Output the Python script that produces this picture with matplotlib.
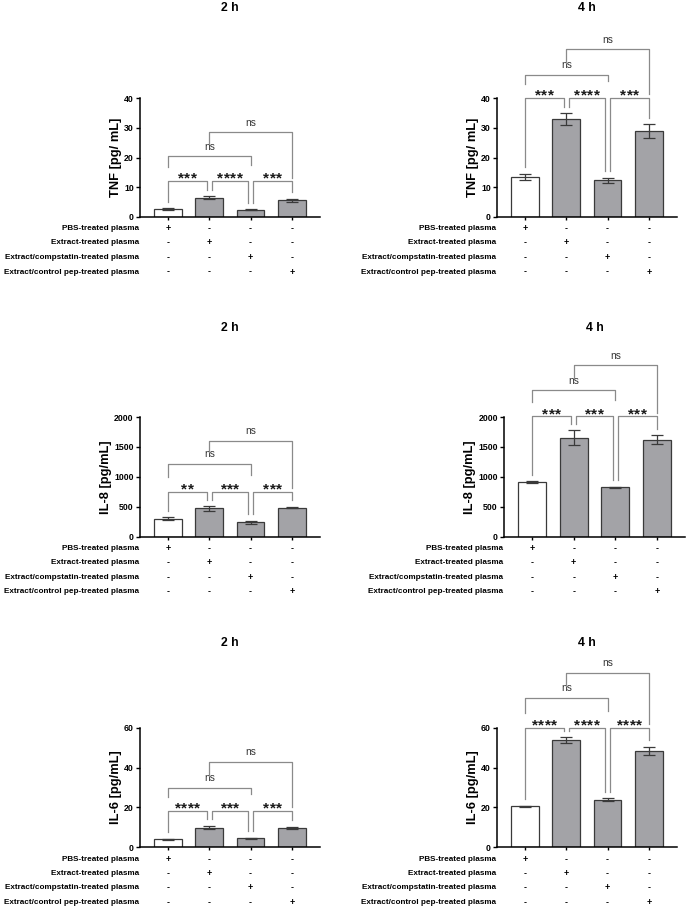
import matplotlib
matplotlib.use("Agg")
import matplotlib.pyplot as plt
import matplotlib.transforms as mtransforms
import numpy as np

plt.rcParams['font.family'] = ['Liberation Sans', 'DejaVu Sans']

# ---------------- data ----------------
conditions = ["PBS-treated plasma", "Extract-treated plasma",
              "Extract/compstatin-treated plasma", "Extract/control pep-treated plasma"]
signs = [["+", "-", "-", "-"],
         ["-", "+", "-", "-"],
         ["-", "-", "+", "-"],
         ["-", "-", "-", "+"]]

titles = ["2 h", "4 h", "2 h", "4 h", "2 h", "4 h"]
ylabels = ["TNF [pg/ mL]", "TNF [pg/ mL]", "IL-8 [pg/mL]", "IL-8 [pg/mL]",
           "IL-6 [pg/mL]", "IL-6 [pg/mL]"]
ymax = [40, 40, 2000, 2000, 60, 60]
ystep = [10, 10, 500, 500, 20, 20]

tnf_2h_mean = [2.7, 6.5, 2.4, 5.7]
tnf_2h_err = [0.3, 0.5, 0.2, 0.5]
tnf_4h_mean = [13.5, 32.8, 12.3, 28.9]
tnf_4h_err = [1.0, 2.0, 0.8, 2.2]
il8_2h_mean = [300, 472, 238, 487]
il8_2h_err = [25, 38, 28, 8]
il8_4h_mean = [910, 1650, 830, 1620]
il8_4h_err = [15, 125, 8, 75]
il6_2h_mean = [4.0, 9.9, 4.6, 9.6]
il6_2h_err = [0.15, 0.8, 0.3, 0.6]
il6_4h_mean = [20.5, 53.6, 23.8, 48.3]
il6_4h_err = [0.4, 1.5, 0.7, 2.2]

means = [tnf_2h_mean, tnf_4h_mean, il8_2h_mean, il8_4h_mean, il6_2h_mean, il6_4h_mean]
errs = [tnf_2h_err, tnf_4h_err, il8_2h_err, il8_4h_err, il6_2h_err, il6_4h_err]

# significance labels: (1-2, 2-3, 3-4, 1-3, 2-4)
sig = [["***", "****", "***", "ns", "ns"],
       ["***", "****", "***", "ns", "ns"],
       ["**", "***", "***", "ns", "ns"],
       ["***", "***", "***", "ns", "ns"],
       ["****", "***", "***", "ns", "ns"],
       ["****", "****", "****", "ns", "ns"]]
# bracket heights (data units): pairwise level, 1-3 level, 2-4 level
levels = [[12.0, 20.4, 28.6],
          [40.0, 47.8, 56.5],
          [754, 1218, 1603],
          [2011, 2447, 2866],
          [18.2, 29.9, 43.0],
          [60.0, 75.0, 87.6]]

# ---------------- layout ----------------
W, H = 689, 910
fig = plt.figure(figsize=(W / 100, H / 100), dpi=100)

# axes boxes in pixels: (left, top, right, bottom)
boxes = [(140, 98, 320, 217), (497, 98, 677, 217),
         (140, 417, 320, 536.7), (504, 417, 685, 536.7),
         (140, 727.7, 320, 847.3), (497, 727.7, 677, 847.3)]
title_y = [8, 8, 328, 328, 643, 643]

bar_gray = "#a3a3a7"
edge = "#3a3a3a"
br_col = "#8a8a8a"
star_step = 4.6  # points between asterisk centres


def draw_stars(ax, xc, yc, label):
    n = len(label)
    for s in range(n):
        dx = (s - (n - 1) / 2) * star_step
        ax.annotate("*", xy=(xc, yc), xytext=(dx, -1.2), textcoords="offset points",
                    ha="center", va="baseline", fontsize=11, fontweight="bold",
                    color="#1a1a1a", annotation_clip=False)


x = np.arange(4)
for k in range(6):
    l, t, r, b = boxes[k]
    ax = fig.add_axes([l / W, 1 - b / H, (r - l) / W, (b - t) / H])
    m = np.array(means[k], dtype=float)
    e = np.array(errs[k], dtype=float)
    colors = ["white", bar_gray, bar_gray, bar_gray]
    ax.bar(x, m, width=0.67, color=colors, edgecolor=edge, linewidth=0.9, zorder=2)
    ax.errorbar(x, m, yerr=e, fmt="none", ecolor=edge, elinewidth=0.9,
                capsize=4.5, capthick=0.9, zorder=3)
    ax.set_xlim(-0.678, 3.68)
    ax.set_ylim(0, ymax[k])
    ax.set_yticks(np.arange(0, ymax[k] + 1e-9, ystep[k]))
    ax.set_xticks(x)
    ax.set_xticklabels([])
    for s in ["top", "right"]:
        ax.spines[s].set_visible(False)
    for s in ["left", "bottom"]:
        ax.spines[s].set_linewidth(1.1)
        ax.spines[s].set_color("black")
    ax.tick_params(axis="y", length=3, width=1.0, labelsize=6.3, pad=1.5)
    ax.tick_params(axis="x", length=2.5, width=1.0, color="black")
    for lab in ax.get_yticklabels():
        lab.set_fontweight("bold")
    ax.set_ylabel(ylabels[k], fontsize=9.3, fontweight="bold", labelpad=1.5)

    # title
    tt = mtransforms.blended_transform_factory(ax.transData, fig.transFigure)
    ax.text(1.5, 1 - title_y[k] / H, titles[k], transform=tt, ha="center",
            va="center", fontsize=8.8, fontweight="bold")

    # condition rows
    row_px = [12, 26, 40.5, 55]
    for i, cond in enumerate(conditions):
        yy = -row_px[i] / (b - t)
        ax.text(-0.002 - 1.0 / (r - l), yy, cond, transform=ax.transAxes, ha="right",
                va="center", fontsize=5.9, fontweight="bold")
        tr = mtransforms.blended_transform_factory(ax.transData, ax.transAxes)
        for j in range(4):
            ax.text(x[j], yy, signs[i][j], transform=tr, ha="center", va="center",
                    fontsize=6.5, fontweight="bold")

    # brackets
    ym = ymax[k]
    gap = 0.055 * ym
    top = m + e
    off = 0.06
    L1, L2, L3 = levels[k]
    pairs = [(0, 1, 0.0, -off), (1, 2, off, -off), (2, 3, off, 0.0)]
    for (i, j, oi, oj), lab in zip(pairs, sig[k][:3]):
        xi, xj = x[i] + oi, x[j] + oj
        ax.plot([xi, xi, xj, xj], [top[i] + gap, L1, L1, top[j] + gap],
                color=br_col, lw=0.9, clip_on=False, zorder=4)
        draw_stars(ax, (xi + xj) / 2, L1, lab)
    # 1-3
    ax.plot([x[0], x[0], x[2], x[2]], [L1 + 0.12 * ym, L2, L2, L1 + 0.14 * ym],
            color=br_col, lw=0.9, clip_on=False, zorder=4)
    ax.annotate(sig[k][3], xy=(1.0, L2), xytext=(0, 4.6), textcoords="offset points",
                ha="center", va="baseline", fontsize=7.3, color="#333333",
                annotation_clip=False)
    # 2-4
    ax.plot([x[1], x[1], x[3], x[3]], [L2 + 0.1 * ym, L3, L3, L1 + 0.03 * ym],
            color=br_col, lw=0.9, clip_on=False, zorder=4)
    ax.annotate(sig[k][4], xy=(2.0, L3), xytext=(0, 4.6), textcoords="offset points",
                ha="center", va="baseline", fontsize=7.3, color="#333333",
                annotation_clip=False)

fig.savefig("out.png", dpi=100, facecolor="white")
